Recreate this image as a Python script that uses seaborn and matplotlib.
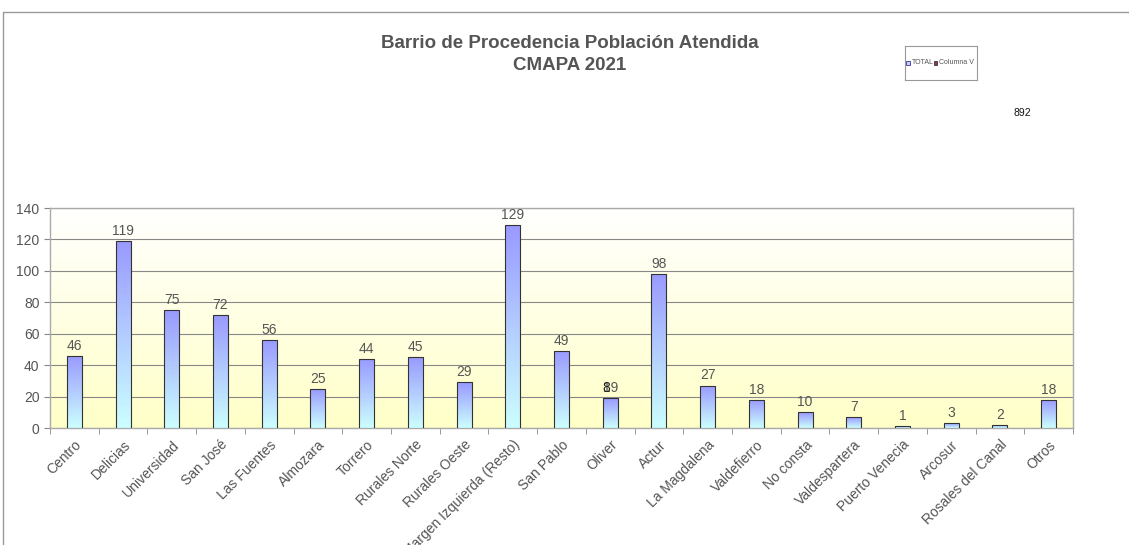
import numpy as np
import pandas as pd
import matplotlib
matplotlib.use('Agg')
import matplotlib.pyplot as plt
from matplotlib.lines import Line2D
from matplotlib.colors import LinearSegmentedColormap
import seaborn as sns

# Data
barrios = ['Centro', 'Delicias', 'Universidad', 'San José', 'Las Fuentes', 'Almozara',
           'Torrero', 'Rurales Norte', 'Rurales Oeste', 'Margen Izquierda (Resto)',
           'San Pablo', 'Oliver', 'Actur', 'La Magdalena', 'Valdefierro', 'No consta',
           'Valdespartera', 'Puerto Venecia', 'Arcosur', 'Rosales del Canal', 'Otros']
total = [46, 119, 75, 72, 56, 25, 44, 45, 29, 129, 49, 19, 98, 27, 18, 10, 7, 1, 3, 2, 18]
total_general = 892

df = pd.DataFrame({'barrio': barrios, 'total': total})
n = len(df)

sns.set_style('white')
plt.rcParams['font.family'] = ['Liberation Sans', 'DejaVu Sans']

fig = plt.figure(figsize=(11.29, 5.45), dpi=100)
ax = fig.add_axes([50 / 1129, 1 - 428 / 545, 1023 / 1129, 220 / 545])

sns.barplot(data=df, x='barrio', y='total', ax=ax, width=0.31,
            color='#9999ff', edgecolor='#333333', linewidth=0.8, zorder=3)

# background gradient: white at top, pale yellow at bottom
bg = LinearSegmentedColormap.from_list('bg', ['#ffffc8', '#ffffff'])
ax.imshow(np.linspace(0, 1, 256).reshape(-1, 1), extent=[-0.5, n - 0.5, 0, 140],
          origin='lower', aspect='auto', cmap=bg, zorder=0)

# bar gradient: light cyan at bottom, periwinkle at top
barcm = LinearSegmentedColormap.from_list('bar', ['#ccffff', '#9999ff'])
for p in ax.patches:
    x0, y0 = p.get_x(), p.get_y()
    w, h = p.get_width(), p.get_height()
    if h <= 0:
        continue
    im = ax.imshow(np.linspace(0, 1, 256).reshape(-1, 1), extent=[x0, x0 + w, y0, y0 + h],
                   origin='lower', aspect='auto', cmap=barcm, zorder=3.5)
    im.set_clip_path(p)
    p.set_facecolor('none')
    p.set_zorder(4)

ax.set_xlim(-0.5, n - 0.5)
ax.set_ylim(0, 140)

# value labels
for i, v in enumerate(df['total']):
    ax.text(i, v + 2, str(v), ha='center', va='bottom', fontsize=10, color='#555555', zorder=5)
# overlapping "8" over the Oliver label, as in the original export
ax.text(11 - 0.09, 19 + 2, '8', ha='center', va='bottom', fontsize=10, color='#222222', zorder=6)

ax.yaxis.grid(True, color='#888888', linewidth=0.8, zorder=1)
ax.set_yticks(range(0, 141, 20))
ax.tick_params(axis='y', labelsize=10, labelcolor='#555555', length=4, color='#888888', left=True)
ax.set_xticks(np.arange(-0.5, n, 1), minor=True)
ax.set_xticklabels(df['barrio'], rotation=45, ha='right', rotation_mode='anchor')
ax.tick_params(axis='x', which='major', labelsize=10, labelcolor='#555555', length=0, pad=7)
ax.tick_params(axis='x', which='minor', length=4, color='#888888', bottom=True)
ax.set_xlabel('')
ax.set_ylabel('')
for s in ax.spines.values():
    s.set_color('#aaaaaa')
    s.set_linewidth(1)

fig.text(570 / 1129, 1 - 43 / 545, 'Barrio de Procedencia Población Atendida',
         ha='center', va='center', fontsize=13.5, fontweight='bold', color='#555555')
fig.text(570 / 1129, 1 - 65 / 545, 'CMAPA 2021',
         ha='center', va='center', fontsize=13.5, fontweight='bold', color='#555555')

# legend box
lax = fig.add_axes([905 / 1129, 1 - 80 / 545, 72 / 1129, 34 / 545])
lax.set_xticks([])
lax.set_yticks([])
for s in lax.spines.values():
    s.set_color('#999999')
    s.set_linewidth(0.8)
lax.add_patch(plt.Rectangle((0.02, 0.44), 0.05, 0.13, transform=lax.transAxes,
                            facecolor='#ccccff', edgecolor='#333399', linewidth=0.6))
lax.text(0.09, 0.51, 'TOTAL', transform=lax.transAxes, fontsize=5, color='#555555', va='center')
lax.add_patch(plt.Rectangle((0.40, 0.44), 0.05, 0.13, transform=lax.transAxes,
                            facecolor='#993366', edgecolor='#333333', linewidth=0.6))
lax.text(0.47, 0.51, 'Columna V', transform=lax.transAxes, fontsize=5, color='#555555', va='center')

fig.text(1022 / 1129, 1 - 113 / 545, str(total_general), ha='center', va='center',
         fontsize=7.5, color='#111111')

# frame lines of the exported sheet
fig.add_artist(Line2D([3 / 1129, 1], [1 - 12 / 545] * 2, color='#999999', linewidth=1))
fig.add_artist(Line2D([3 / 1129] * 2, [0, 1 - 12 / 545], color='#999999', linewidth=1))

fig.savefig('out.png', dpi=100)
